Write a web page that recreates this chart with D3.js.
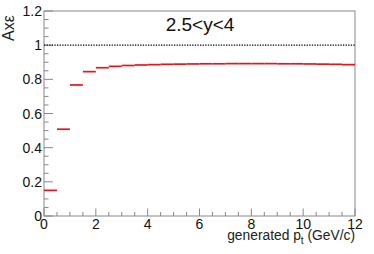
<!DOCTYPE html>
<html><head><meta charset="utf-8">
<script src="https://cdn.jsdelivr.net/npm/d3@7"></script>
<style>body{margin:0;background:#fff}svg{display:block}text{font-family:"Liberation Sans",Arial,sans-serif}</style>
</head><body>
<script>
const binEdges = [0,0.5,1,1.5,2,2.5,3,3.5,4,4.5,5,5.5,6,6.5,7,7.5,8,8.5,9,9.5,10,10.5,11,11.5,12];
const acceff = [0.150,0.508,0.767,0.845,0.868,0.876,0.881,0.884,0.886,0.888,0.889,0.890,0.891,0.891,0.892,0.892,0.892,0.892,0.891,0.891,0.890,0.889,0.888,0.886];
const yTicks = [0,0.2,0.4,0.6,0.8,1,1.2];
const xTicks = [0,2,4,6,8,10,12];
const refLine = 1;
const title = "2.5<y<4";

const W=374,H=254;
const svg=d3.select("body").append("svg").attr("width",W).attr("height",H);
const L=44,R=355,T=11,B=216;
const x=d3.scaleLinear().domain([0,12]).range([L,R]);
const y=d3.scaleLinear().domain([0,1.2]).range([B,T]);
const axCol="#888";

// frame
svg.append("rect").attr("x",L).attr("y",T).attr("width",R-L).attr("height",B-T)
  .attr("fill","none").attr("stroke",axCol).attr("stroke-width",1);

// y ticks
const yMinor=d3.range(0,1.2001,0.05);
svg.append("g").selectAll("line").data(yMinor).join("line")
  .attr("x1",L).attr("x2",d=>L+(Math.abs(d/0.2-Math.round(d/0.2))<1e-6?9:4.5))
  .attr("y1",d=>y(d)).attr("y2",d=>y(d)).attr("stroke",axCol);
svg.append("g").selectAll("text").data(yTicks).join("text")
  .attr("x",L-2).attr("y",d=>y(d)+5).attr("text-anchor","end")
  .attr("font-size",14).attr("fill","#111").text(d=>d3.format("")(d));

// x ticks
const xMinor=d3.range(0,12.001,0.5);
svg.append("g").selectAll("line").data(xMinor).join("line")
  .attr("y1",B).attr("y2",d=>B-(d%2===0?7.5:4))
  .attr("x1",d=>x(d)).attr("x2",d=>x(d)).attr("stroke",axCol);
svg.append("g").selectAll("text").data(xTicks).join("text")
  .attr("x",d=>x(d)).attr("y",B+13).attr("text-anchor","middle")
  .attr("font-size",14).attr("fill","#111").text(d=>d);

// reference line
svg.append("line").attr("x1",L).attr("x2",R).attr("y1",y(refLine)).attr("y2",y(refLine))
  .attr("stroke","#000").attr("stroke-width",1.3).attr("stroke-dasharray","1.3,1.3");

// bins
svg.append("g").selectAll("line").data(acceff).join("line")
  .attr("x1",(d,i)=>x(binEdges[i])).attr("x2",(d,i)=>x(binEdges[i+1]))
  .attr("y1",d=>y(d)).attr("y2",d=>y(d)).attr("stroke","#e8141c").attr("stroke-width",1.7);

// title
svg.append("text").attr("x",200).attr("y",31).attr("text-anchor","middle")
  .attr("font-size",19).attr("fill","#111").text(title);

// axis titles
const xt=svg.append("text").attr("x",R).attr("y",240).attr("text-anchor","end")
  .attr("font-size",13.8).attr("fill","#222");
xt.append("tspan").text("generated p");
xt.append("tspan").attr("font-size",10).attr("dy",4).text("t");
xt.append("tspan").attr("dy",-4).text(" (GeV/c)");

svg.append("text").attr("transform","translate(14,41) rotate(-90)").attr("text-anchor","start")
  .attr("font-size",16).attr("fill","#222").text("Axε");
</script>
</body></html>
